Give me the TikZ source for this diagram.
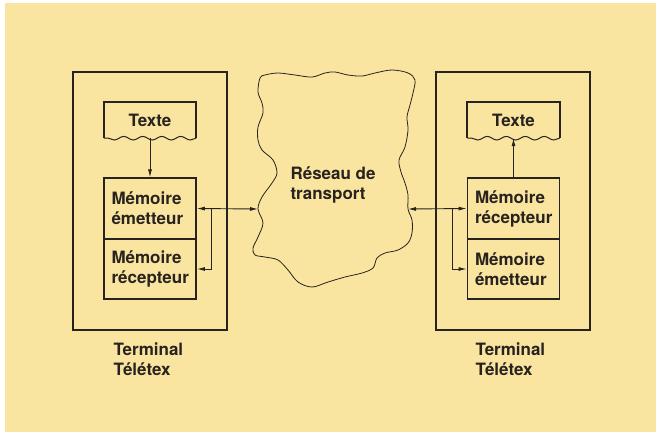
\documentclass[tikz,border=0pt]{standalone}
\usepackage{fontspec}
\setmainfont{TeX Gyre Heros}
\usetikzlibrary{arrows.meta,decorations.pathmorphing}
\definecolor{paper}{RGB}{250,229,160}
\definecolor{ink}{RGB}{40,35,30}

\tikzset{
  terminal/.style={draw=ink, line width=2pt, minimum width=154pt, minimum height=258pt},
  membox/.style={draw=ink, line width=1.8pt, minimum width=92pt, minimum height=60.5pt,
    text width=77pt, inner sep=0pt, align=left, lbl},
  textebox/.style={minimum width=92pt, minimum height=36pt, inner sep=0pt, lbl},
  link/.style={draw=ink, line width=0.9pt},
  lbl/.style={text=ink, font=\fontsize{17}{20}\selectfont\bfseries, align=left},
  wavy/.style={draw=ink, line width=1pt, decorate, decoration={snake, segment length=19pt, amplitude=1.8pt}}
}

\begin{document}
\begin{tikzpicture}[x=1pt, y=-1pt, >={Latex[length=8pt,width=4pt]}]

    % Paper
    \fill[white] (0,0) rectangle (656,432);
    \fill[paper] (5,3) rectangle (656,432);
    \useasboundingbox (0,0) rectangle (656,432);

    %% Left terminal
    \node[terminal] (termL) at (150,201) {};
    \node[textebox] (texteL) at (150,120) {Texte};
    \node[membox] (memEL) at (150,208.5) {M\'emoire\\\'emetteur};
    \node[membox] (memRL) at (150,269) {M\'emoire\\r\'ecepteur};
    \node[lbl, anchor=west] (nameL) at (110,359) {Terminal\\T\'el\'etex};

    % Texte box with torn bottom
    \draw[ink, line width=1.8pt] (texteL.south west) -- (texteL.north west) -- (texteL.north east) -- (texteL.south east);
    \draw[wavy] (texteL.south east) -- (texteL.south west);

    %% Right terminal
    \node[terminal] (termR) at (513,200.5) {};
    \node[textebox] (texteR) at (513.5,120) {Texte};
    \node[membox] (memRR) at (513.5,208.5) {M\'emoire\\r\'ecepteur};
    \node[membox] (memER) at (513.5,269) {M\'emoire\\\'emetteur};
    \node[lbl, anchor=west] (nameR) at (472,359) {Terminal\\T\'el\'etex};

    \draw[ink, line width=1.8pt] (texteR.south west) -- (texteR.north west) -- (texteR.north east) -- (texteR.south east);
    \draw[wavy] (texteR.south east) -- (texteR.south west);

    %% Transport network
    \draw[ink, line width=0.8pt] plot[smooth cycle, tension=0.55] coordinates {
      (260,78) (265,75) (278,73) (295,75) (312,77) (325,73) (335,72) (348,75)
      (362,76) (375,73) (392,70) (408,73) (415,80) (413,93) (410,105) (407,117)
      (408,130) (405,147) (399,160) (401,172) (405,183) (408,195) (408,209)
      (412,220) (412,233) (408,243) (398,250) (385,253) (377,258) (373,268)
      (362,273) (345,277) (328,282) (312,287) (298,282) (288,270) (278,260)
      (265,257) (255,255) (253,248) (258,237) (263,223) (258,209) (262,197)
      (272,183) (277,173) (273,160) (262,150) (258,140) (258,127) (263,113)
      (262,103) (258,92)};
    \coordinate (netW) at (258,209);
    \coordinate (netE) at (408,209);
    \node[lbl, anchor=west] (netlabel) at (287,185) {R\'eseau de\\transport};

    %% Connections
    \draw[link, ->] (texteL.south) -- (memEL.north);
    \draw[link, <->] (memEL.east) -- (netW);
    \draw[link, ->] ([xshift=15pt]memEL.east) |- (memRL.east);

    \draw[link, ->] (memRR.north) -- (texteR.south);
    \draw[link, <->] (netE) -- (memRR.west);
    \draw[link, ->] ([xshift=-14pt]memRR.west) |- (memER.west);

\end{tikzpicture}
\end{document}
